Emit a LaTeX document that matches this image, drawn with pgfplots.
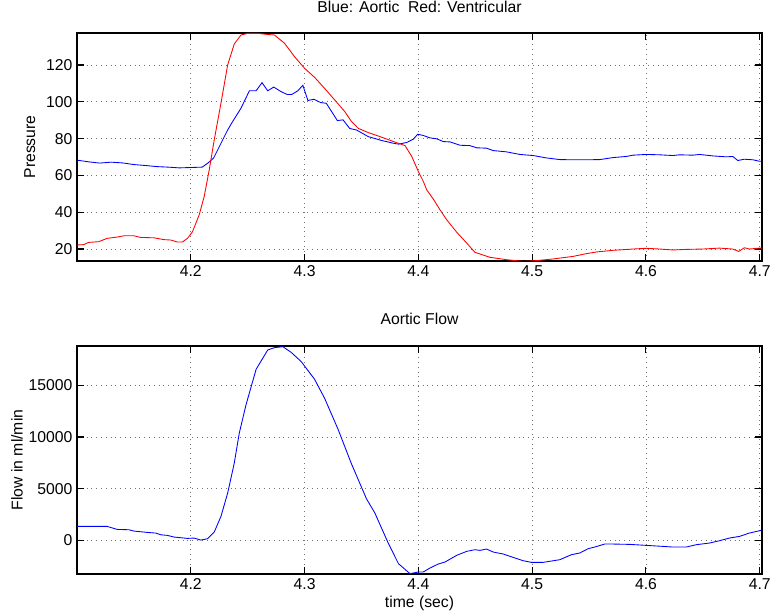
\documentclass[border=0pt]{standalone}
\usepackage{fontspec}
\setmainfont{Liberation Sans}
\usepackage{pgfplots}
\pgfplotsset{compat=1.18}

% matlab-like panels, 1px = 0.75pt
\pgfplotsset{
  mlpanel/.style={
    scale only axis, width=513.75pt, height=171pt, anchor=south west,
    xmin=4.1, xmax=4.702,
    xtick={4.2,4.3,4.4,4.5,4.6,4.7},
    xticklabel style={/pgf/number format/fixed,/pgf/number format/precision=1},
    /pgf/number format/assume math mode=true,
    /pgf/number format/1000 sep={},
    tick align=inside, major tick length=5pt,
    grid=major,
    grid style={black!55, line width=0.5pt, dash pattern=on 0.6pt off 3pt},
    axis line style={line width=0.8pt},
    every tick/.style={black, line width=0.8pt},
    tick label style={font=\fontsize{11.8}{13}\selectfont},
    label style={font=\fontsize{11.8}{13}\selectfont},
    title style={font=\fontsize{11.8}{13}\selectfont},
    scaled ticks=false,
  },
}

\begin{document}
\begin{tikzpicture}
\useasboundingbox (0,0) rectangle (577.5pt,462pt);

% ---- pressure
\begin{axis}[mlpanel, at={(57.75pt,266.25pt)},
  ymin=13.5, ymax=137.4, ytick={20,40,60,80,100,120},
  ylabel={Pressure},
  ylabel style={at={(axis description cs:-0.069,0.5)}, anchor=center},
  title={Blue: Aortic\ \ Red: Ventricular},
  title style={at={(axis description cs:0.5,1.079)}, anchor=center},
]
\addplot[blue, line width=0.65pt] coordinates {
(4.100,68.3)(4.110,67.4)(4.120,66.7)(4.130,67.2)(4.140,66.8)(4.150,65.9)
(4.160,65.4)(4.170,64.8)(4.180,64.5)(4.190,64.1)(4.200,64.3)(4.210,64.5)
(4.215,66.7)(4.220,69.4)(4.2324,84.7)(4.2368,89.3)(4.2441,96.5)(4.2515,106.0)
(4.2574,106.0)(4.2626,110.4)(4.2676,106.0)(4.2729,108.0)(4.2794,105.5)
(4.2847,104.0)(4.2888,104.0)(4.2941,106.0)(4.2985,109.0)(4.3029,100.7)
(4.3082,101.4)(4.3141,99.6)(4.3191,99.2)(4.3288,89.8)(4.3338,90.2)
(4.3397,85.5)(4.3456,84.7)(4.3559,81.1)(4.3676,79.0)(4.3779,77.5)
(4.3825,77.0)(4.3898,77.9)(4.3956,79.7)(4.3994,82.4)(4.4044,81.7)
(4.4102,80.4)(4.4161,79.9)(4.4219,78.4)(4.4278,78.2)(4.4365,76.4)
(4.4453,76.2)(4.4512,75.0)(4.4599,74.8)(4.4658,73.5)(4.4775,72.8)
(4.4892,71.4)(4.5009,70.8)(4.5126,69.5)(4.5243,68.6)(4.5360,68.5)
(4.5477,68.5)(4.5594,68.6)(4.5711,69.7)(4.5827,70.3)(4.5886,71.0)
(4.6003,71.4)(4.6120,71.2)(4.6237,70.8)(4.6295,71.2)(4.6412,71.0)
(4.6471,71.4)(4.6588,70.6)(4.6705,70.1)(4.6763,70.3)(4.6807,68.1)
(4.6865,68.8)(4.6939,68.5)(4.6997,67.7)(4.7020,67.7)
};
\addplot[red, line width=0.65pt] coordinates {
(4.1000,22.2)(4.1059,22.4)(4.1103,23.6)(4.1191,24.0)(4.1265,25.8)(4.1353,26.5)
(4.1412,27.2)(4.1500,27.2)(4.1559,26.3)(4.1676,26.1)(4.1765,25.1)(4.1824,24.9)
(4.1882,23.8)(4.1926,23.8)(4.1971,25.8)(4.2015,29.4)(4.2074,38.6)(4.2118,48.6)
(4.2162,63.0)(4.2206,79.3)(4.2265,99.2)(4.2324,120.0)(4.2382,131.4)(4.2441,136.3)
(4.2500,137.2)(4.2588,137.2)(4.2676,136.6)(4.2735,136.3)(4.2824,131.8)
(4.2912,124.5)(4.3000,118.2)(4.3088,113.3)(4.3176,107.3)(4.3265,101.0)
(4.3353,94.7)(4.3412,89.3)(4.3471,85.6)(4.3559,83.3)(4.3676,80.8)
(4.3781,78.4)(4.3883,76.2)(4.3942,70.3)(4.4000,62.1)(4.4044,56.7)
(4.4073,52.2)(4.4132,47.1)(4.4190,41.3)(4.4249,35.9)(4.4336,29.2)
(4.4424,23.3)(4.4497,18.2)(4.4629,15.5)(4.4775,14.2)(4.4921,13.3)
(4.5038,13.7)(4.5184,14.6)(4.5360,16.0)(4.5477,17.5)(4.5564,18.4)
(4.5711,19.3)(4.5886,20.0)(4.6003,20.4)(4.6120,20.0)(4.6237,19.5)
(4.6354,19.8)(4.6500,20.0)(4.6646,20.5)(4.6763,20.0)(4.6816,18.7)
(4.6865,20.7)(4.6909,20.0)(4.6997,20.5)(4.7020,20.5)
};
\end{axis}

% ---- flow
\begin{axis}[mlpanel, at={(57.75pt,31.5pt)},
  ymin=-3250, ymax=18800, ytick={0,5000,10000,15000},
  ylabel={Flow in ml/min},
  ylabel style={at={(axis description cs:-0.0876,0.5)}, anchor=center},
  xlabel={time (sec)},
  xlabel style={at={(axis description cs:0.5,-0.13)}, anchor=center},
  title={Aortic Flow},
  title style={at={(axis description cs:0.5,1.083)}, anchor=center},
]
\addplot[blue, line width=0.65pt] coordinates {
(4.1000,1352)(4.1265,1352)(4.1353,1062)(4.1456,1030)(4.1500,901)(4.1618,773)
(4.1691,708)(4.1735,547)(4.1794,483)(4.1853,322)(4.1971,193)(4.2029,225)
(4.2088,32)(4.2147,161)(4.2206,805)(4.2265,2318)(4.2324,4571)(4.2382,7468)
(4.2426,10365)(4.2485,13101)(4.2574,16546)(4.2676,18413)(4.2735,18638)
(4.2809,18735)(4.2882,18187)(4.2971,17286)(4.3088,15580)(4.3176,13745)
(4.3294,10752)(4.3412,7404)(4.3544,4024)(4.3618,2640)(4.3735,-258)
(4.3825,-2253)(4.3927,-3219)(4.4000,-3058)(4.4044,-3050)(4.4102,-2672)
(4.4175,-2285)(4.4234,-2092)(4.4336,-1449)(4.4424,-1062)(4.4497,-901)
(4.4541,-966)(4.4599,-837)(4.4658,-1127)(4.4746,-1320)(4.4833,-1642)
(4.4921,-1964)(4.4994,-2125)(4.5096,-2125)(4.5243,-1867)(4.5345,-1384)
(4.5418,-1223)(4.5491,-805)(4.5550,-644)(4.5637,-354)(4.5711,-354)
(4.5857,-386)(4.6003,-483)(4.6149,-579)(4.6237,-644)(4.6354,-644)
(4.6442,-418)(4.6558,-258)(4.6646,-32)(4.6734,225)(4.6822,386)
(4.6909,708)(4.7012,966)
};
\end{axis}
\end{tikzpicture}
\end{document}
